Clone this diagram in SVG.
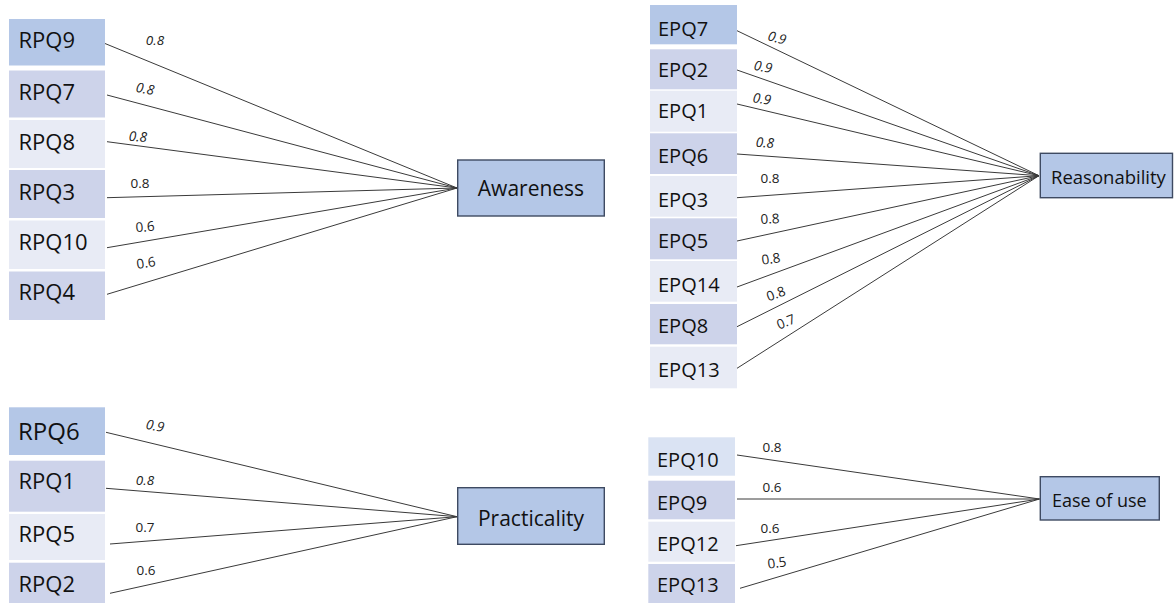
<svg xmlns="http://www.w3.org/2000/svg" width="1174" height="603" viewBox="0 0 1174 603">
<style>
.b1{fill:#b4c7e7}.b2{fill:#cdd3ea}.b3{fill:#e8ebf5}.b4{fill:#dae3f3}
.t{font-family:"Open Sans","Noto Sans",sans-serif;fill:#111}
.r{font-size:22px}.e{font-size:20px}.big{font-size:24px}
.n{fill:#b4c7e7;stroke:#3e4a62;stroke-width:1.4}
.nt{font-family:"Open Sans","Noto Sans",sans-serif;fill:#111;font-size:21px}
.nt.s{font-size:18.5px}.nt.s2{font-size:18px}
.c line{stroke:#3a3a3a;stroke-width:1}
.l{font-family:"Open Sans","Noto Sans",sans-serif;font-size:13.5px;fill:#222;text-anchor:middle}
.i{font-style:italic}
</style>
<rect width="1174" height="603" fill="#fff"/>
<g id="connectors" class="c">
<line x1="103" y1="42.7" x2="457" y2="188"/>
<line x1="107" y1="95" x2="457" y2="188"/>
<line x1="107" y1="141.7" x2="457" y2="188"/>
<line x1="107" y1="197.7" x2="457" y2="188"/>
<line x1="107" y1="247.7" x2="457" y2="188"/>
<line x1="107" y1="294.3" x2="457" y2="188"/>
<line x1="737" y1="30.7" x2="1039" y2="175.7"/>
<line x1="737" y1="70" x2="1039" y2="175.7"/>
<line x1="737" y1="104" x2="1039" y2="175.7"/>
<line x1="737" y1="154" x2="1039" y2="175.7"/>
<line x1="737" y1="197.7" x2="1039" y2="175.7"/>
<line x1="737" y1="241" x2="1039" y2="175.7"/>
<line x1="737" y1="287" x2="1039" y2="175.7"/>
<line x1="737" y1="326.7" x2="1039" y2="175.7"/>
<line x1="737" y1="368.3" x2="1039" y2="175.7"/>
<line x1="106" y1="432.3" x2="457" y2="516.7"/>
<line x1="106" y1="488.3" x2="457" y2="516.7"/>
<line x1="110" y1="544" x2="457" y2="516.7"/>
<line x1="110" y1="593.3" x2="457" y2="516.7"/>
<line x1="737" y1="455" x2="1039.5" y2="499"/>
<line x1="737" y1="499" x2="1039.5" y2="499"/>
<line x1="736" y1="545.7" x2="1039.5" y2="499"/>
<line x1="740" y1="588.3" x2="1039.5" y2="499"/>
</g>
<g id="labels">
<text class="l i" x="155" y="44.5">0.8</text>
<text class="l i" x="145" y="93.5" transform="rotate(10 145 89)">0.8</text>
<text class="l i" x="138" y="141.5" transform="rotate(4 138 137)">0.8</text>
<text class="l" x="140" y="187.5">0.8</text>
<text class="l" x="145" y="231.5" transform="rotate(-5 145 227)">0.6</text>
<text class="l" x="146" y="267.5" transform="rotate(-9 146 263)">0.6</text>
<text class="l i" x="777" y="42.5" transform="rotate(15 777 38)">0.9</text>
<text class="l i" x="763" y="71.5" transform="rotate(10 763 67)">0.9</text>
<text class="l i" x="762" y="103.5" transform="rotate(8 762 99)">0.9</text>
<text class="l i" x="765" y="147.5" transform="rotate(4 765 143)">0.8</text>
<text class="l" x="770" y="182.5">0.8</text>
<text class="l" x="770" y="223.5" transform="rotate(-3 770 219)">0.8</text>
<text class="l" x="771" y="263.5" transform="rotate(-8 771 259)">0.8</text>
<text class="l" x="776" y="298.5" transform="rotate(-20 776 294)">0.8</text>
<text class="l" x="786" y="326.5" transform="rotate(-22 786 322)">0.7</text>
<text class="l i" x="155" y="430.5" transform="rotate(10 155 426)">0.9</text>
<text class="l i" x="145" y="484.5">0.8</text>
<text class="l" x="145" y="531.5">0.7</text>
<text class="l" x="146" y="574.5">0.6</text>
<text class="l" x="772" y="451.5">0.8</text>
<text class="l" x="772" y="491.5">0.6</text>
<text class="l" x="770" y="532.5">0.6</text>
<text class="l" x="777" y="567.5" transform="rotate(-8 777 563)">0.5</text>
</g>
<g id="RPQ9"><rect class="b1" x="9" y="19" width="96" height="46.5"/><text class="t r" x="18.5" y="48.3">RPQ9</text></g>
<g id="RPQ7"><rect class="b2" x="9" y="70.5" width="96" height="47"/><text class="t r" x="18.5" y="100">RPQ7</text></g>
<g id="RPQ8"><rect class="b3" x="9" y="120" width="96" height="48"/><text class="t r" x="18.5" y="150">RPQ8</text></g>
<g id="RPQ3"><rect class="b2" x="9" y="170" width="96" height="48"/><text class="t r" x="18.5" y="200">RPQ3</text></g>
<g id="RPQ10"><rect class="b3" x="9" y="220.5" width="96" height="48.5"/><text class="t r" x="18.5" y="250">RPQ10</text></g>
<g id="RPQ4"><rect class="b2" x="9" y="271.5" width="96" height="48.5"/><text class="t r" x="18.5" y="300">RPQ4</text></g>
<g id="Awareness"><rect class="n" x="457.7" y="160" width="146.6" height="56"/><text class="nt" x="531" y="196" text-anchor="middle">Awareness</text></g>
<g id="EPQ7"><rect class="b1" x="650" y="5" width="87" height="39.3"/><text class="t e" x="658" y="35.7">EPQ7</text></g>
<g id="EPQ2"><rect class="b2" x="650" y="49.3" width="87" height="40"/><text class="t e" x="658" y="77.3">EPQ2</text></g>
<g id="EPQ1"><rect class="b3" x="650" y="90.7" width="87" height="41"/><text class="t e" x="658" y="118.3">EPQ1</text></g>
<g id="EPQ6"><rect class="b2" x="650" y="133.3" width="87" height="40.7"/><text class="t e" x="658" y="163.3">EPQ6</text></g>
<g id="EPQ3"><rect class="b3" x="650" y="176" width="87" height="40.7"/><text class="t e" x="658" y="206.7">EPQ3</text></g>
<g id="EPQ5"><rect class="b2" x="650" y="218.3" width="87" height="41"/><text class="t e" x="658" y="248.3">EPQ5</text></g>
<g id="EPQ14"><rect class="b3" x="650" y="261" width="87" height="40.7"/><text class="t e" x="658" y="291.7">EPQ14</text></g>
<g id="EPQ8"><rect class="b2" x="650" y="304" width="87" height="40.3"/><text class="t e" x="658" y="333.3">EPQ8</text></g>
<g id="EPQ13a"><rect class="b3" x="650" y="346.7" width="87" height="41.6"/><text class="t e" x="658" y="376.7">EPQ13</text></g>
<g id="Reasonability"><rect class="n" x="1040.3" y="153.3" width="132.2" height="44.4"/><text class="nt s" x="1051" y="184">Reasonability</text></g>
<g id="RPQ6"><rect class="b1" x="9" y="407.3" width="96" height="47.7"/><text class="t big" x="18" y="440">RPQ6</text></g>
<g id="RPQ1"><rect class="b2" x="9" y="460.7" width="96" height="51"/><text class="t r" x="18.5" y="489.3">RPQ1</text></g>
<g id="RPQ5"><rect class="b3" x="9" y="514" width="96" height="46"/><text class="t r" x="18.5" y="541.7">RPQ5</text></g>
<g id="RPQ2"><rect class="b2" x="9" y="562.7" width="96" height="41"/><text class="t r" x="18.5" y="591.7">RPQ2</text></g>
<g id="Practicality"><rect class="n" x="457.7" y="487.7" width="146.6" height="56.6"/><text class="nt" x="531" y="526" text-anchor="middle">Practicality</text></g>
<g id="EPQ10"><rect class="b4" x="648.3" y="437.3" width="86.7" height="38.4"/><text class="t e" x="657" y="466.7">EPQ10</text></g>
<g id="EPQ9"><rect class="b2" x="648.3" y="480.7" width="86.7" height="38.6"/><text class="t e" x="657" y="510">EPQ9</text></g>
<g id="EPQ12"><rect class="b3" x="648.3" y="521.7" width="86.7" height="40"/><text class="t e" x="657" y="550.7">EPQ12</text></g>
<g id="EPQ13b"><rect class="b2" x="648.3" y="564" width="86.7" height="40"/><text class="t e" x="657" y="591.7">EPQ13</text></g>
<g id="EaseOfUse"><rect class="n" x="1040.3" y="476.7" width="119" height="43.3"/><text class="nt s2" x="1052" y="507">Ease of use</text></g>
</svg>
